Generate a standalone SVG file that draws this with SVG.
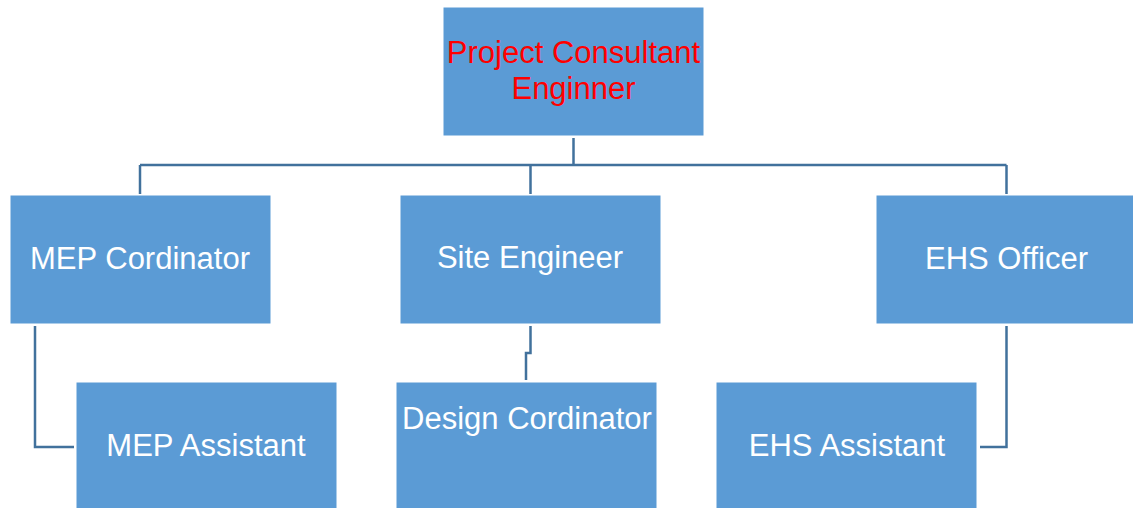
<svg xmlns="http://www.w3.org/2000/svg" width="1133" height="508" viewBox="0 0 1133 508">
  <style>
    .box { fill: #5B9BD5; stroke: #ffffff; stroke-width: 1; }
    .lbl { font-family: "Liberation Sans", Arial, sans-serif; font-size: 31px; fill: #ffffff; text-anchor: middle; }
    .red { fill: #FF0000; }
    .link { fill: none; stroke: #41719C; stroke-width: 2.5; }
  </style>
  <rect width="1133" height="508" fill="#ffffff"/>

  <!-- org chart connectors -->
  <g id="connectors">
    <path class="link" d="M573.5 138 V165"/>
    <path class="link" d="M140 165 H1006.5"/>
    <path class="link" d="M140 165 V194"/>
    <path class="link" d="M530.5 165 V194"/>
    <path class="link" d="M1006.5 165 V194"/>
    <path class="link" d="M35 326 V447 H74"/>
    <path class="link" d="M530.5 326 V353 H526 V380"/>
    <path class="link" d="M1006.5 326 V447 H980"/>
  </g>

  <g id="project-consultant">
    <rect class="box" x="443" y="7" width="261" height="129"/>
    <text class="lbl red" x="573.5" y="63">Project Consultant</text>
    <text class="lbl red" x="573.5" y="99">Enginner</text>
  </g>

  <g id="mep-cordinator">
    <rect class="box" x="10" y="195" width="261" height="129"/>
    <text class="lbl" x="140" y="269">MEP Cordinator</text>
  </g>

  <g id="site-engineer">
    <rect class="box" x="400" y="195" width="261" height="129"/>
    <text class="lbl" x="530" y="268">Site Engineer</text>
  </g>

  <g id="ehs-officer">
    <rect class="box" x="876" y="195" width="261" height="129"/>
    <text class="lbl" x="1006.5" y="269">EHS Officer</text>
  </g>

  <g id="mep-assistant">
    <rect class="box" x="76" y="382" width="261" height="130"/>
    <text class="lbl" x="206" y="456">MEP Assistant</text>
  </g>

  <g id="design-cordinator">
    <rect class="box" x="396" y="382" width="261" height="130"/>
    <text class="lbl" x="527" y="429">Design Cordinator</text>
  </g>

  <g id="ehs-assistant">
    <rect class="box" x="716" y="382" width="261" height="130"/>
    <text class="lbl" x="847" y="456">EHS Assistant</text>
  </g>
</svg>
